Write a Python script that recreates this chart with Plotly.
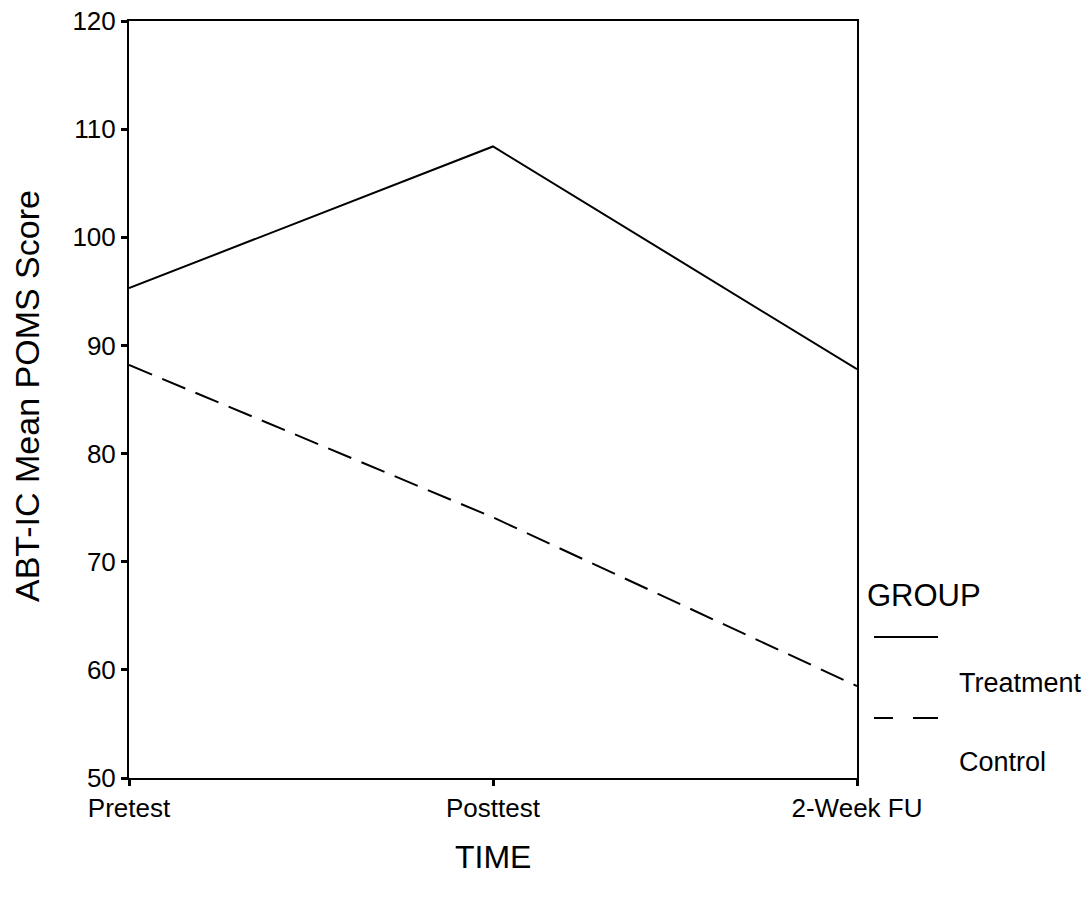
import plotly.graph_objects as go

# Measurement occasions and group means
time_points = ["Pretest", "Posttest", "2-Week FU"]
treatment_means = [95.3, 108.4, 87.8]
control_means = [88.2, 74.1, 58.5]
y_ticks = [50, 60, 70, 80, 90, 100, 110, 120]

FONT = "Liberation Sans, Arial, sans-serif"

fig = go.Figure()
fig.add_trace(go.Scatter(
    x=time_points, y=treatment_means, mode="lines", name="Treatment",
    line=dict(color="black", width=2), showlegend=False,
))
fig.add_trace(go.Scatter(
    x=time_points, y=control_means, mode="lines", name="Control",
    line=dict(color="black", width=2, dash="25px,11px"), showlegend=False,
))

fig.update_layout(
    width=1092, height=911,
    margin=dict(l=129, r=235, t=21, b=133),
    paper_bgcolor="white", plot_bgcolor="white",
    font=dict(family=FONT, color="black"),
    xaxis=dict(
        type="category", range=[0, 2], showgrid=False, zeroline=False,
        showline=True, linecolor="black", linewidth=2, mirror=True,
        ticks="outside", ticklen=6, tickwidth=3, tickcolor="black",
        tickfont=dict(size=26, family=FONT), automargin=False,
    ),
    yaxis=dict(
        range=[50, 120], tickvals=y_ticks, showgrid=False, zeroline=False,
        showline=True, linecolor="black", linewidth=2, mirror=True,
        ticks="outside", ticklen=6, tickwidth=3, tickcolor="black",
        tickfont=dict(size=26, family=FONT), automargin=False,
    ),
)

# Pixel helpers for paper coordinates
def px_x(px):
    return (px - 129) / 728

def px_y(py):
    return (778 - py) / 757

# Axis titles
fig.add_annotation(
    text="ABT-IC Mean POMS Score", xref="paper", yref="paper",
    x=px_x(27), y=px_y(396), textangle=-90,
    showarrow=False, font=dict(size=34, family=FONT),
    xanchor="center", yanchor="middle",
)
fig.add_annotation(
    text="TIME", xref="paper", yref="paper",
    x=0.5, y=px_y(857), yanchor="middle", xanchor="center",
    showarrow=False, font=dict(size=32, family=FONT),
)

# Legend block at the right of the plot
fig.add_annotation(text="GROUP", xref="paper", yref="paper",
                   x=px_x(865), y=px_y(595), xanchor="left", yanchor="middle",
                   showarrow=False, font=dict(size=31, family=FONT))
fig.add_shape(type="line", xref="paper", yref="paper",
              x0=px_x(874), x1=px_x(938), y0=px_y(637), y1=px_y(637),
              line=dict(color="black", width=2))
fig.add_annotation(text="Treatment", xref="paper", yref="paper",
                   x=px_x(957), y=px_y(683), xanchor="left", yanchor="middle",
                   showarrow=False, font=dict(size=27, family=FONT))
fig.add_shape(type="line", xref="paper", yref="paper",
              x0=px_x(874), x1=px_x(893), y0=px_y(718), y1=px_y(718),
              line=dict(color="black", width=2))
fig.add_shape(type="line", xref="paper", yref="paper",
              x0=px_x(913), x1=px_x(938), y0=px_y(718), y1=px_y(718),
              line=dict(color="black", width=2))
fig.add_annotation(text="Control", xref="paper", yref="paper",
                   x=px_x(957), y=px_y(762), xanchor="left", yanchor="middle",
                   showarrow=False, font=dict(size=27, family=FONT))

fig.write_html("out.html")
